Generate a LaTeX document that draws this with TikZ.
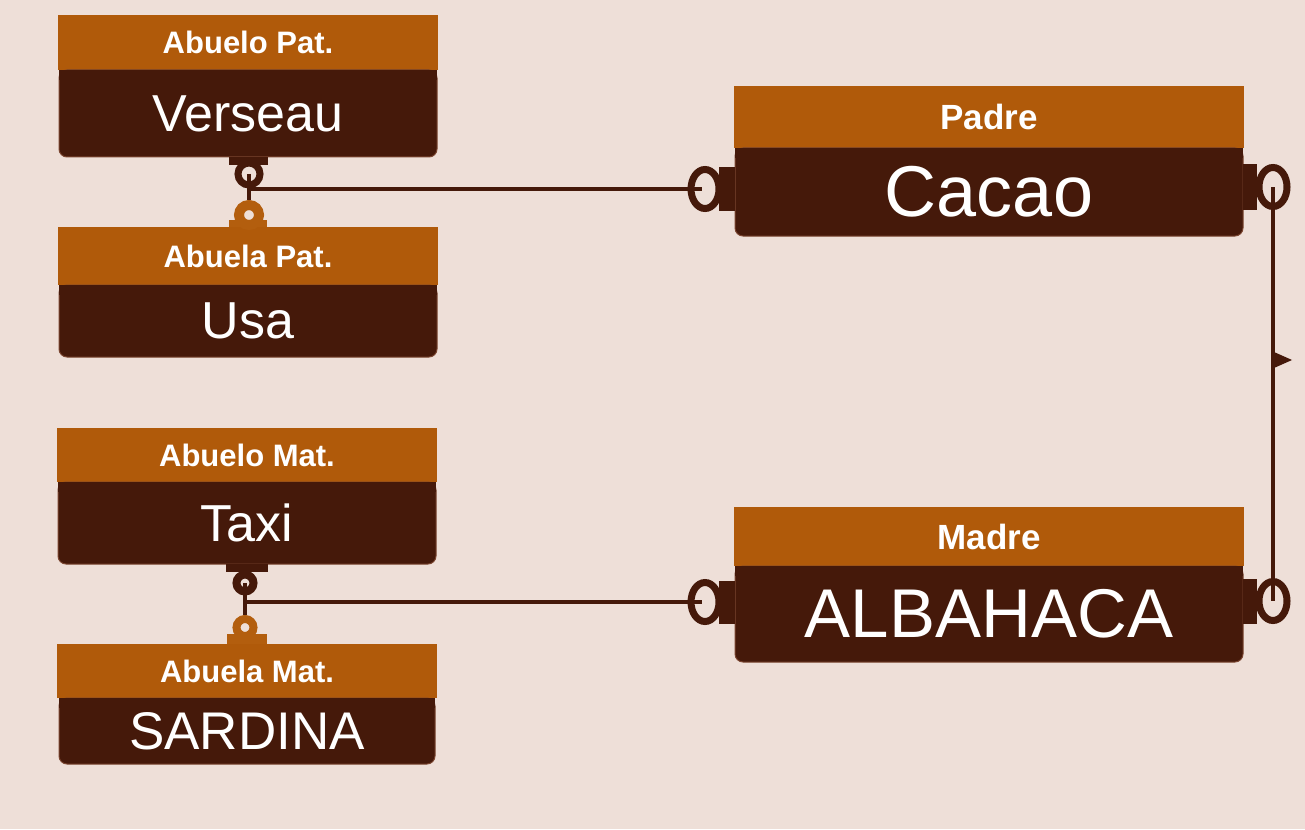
\documentclass[tikz,border=0pt]{standalone}
\usepackage{fontspec}
\setmainfont{Liberation Sans}
\usetikzlibrary{shapes,positioning}

\definecolor{canvas}{HTML}{EEDFD8}
\definecolor{headbrown}{HTML}{B05A0A}
\definecolor{bodybrown}{HTML}{45190A}
\definecolor{edgebrown}{HTML}{7A4530}
\definecolor{linkorange}{HTML}{B35E0E}

\begin{document}
\begin{tikzpicture}[x=1pt, y=-1pt]

  \tikzset{head/.style = {fill=headbrown, text=white, inner sep=0pt, outer sep=0pt,
      font=\fontsize{31}{36}\selectfont\bfseries},
    body/.style = {fill=bodybrown, draw=edgebrown, line width=1pt,
      rounded corners=8pt, text=white, inner sep=0pt, outer sep=0pt,
      font=\fontsize{52}{60}\selectfont},
    tab/.style = {fill=#1, inner sep=0pt, outer sep=0pt},
    ring/.style = {circle, draw=#1, line width=7pt, minimum size=22pt, inner sep=0pt},
    oval/.style = {ellipse, draw=bodybrown, line width=7pt,
      minimum width=28pt, minimum height=39pt, inner sep=0pt},
    link/.style = {draw=bodybrown, line width=4.5pt}}

  \fill[canvas] (0,0) rectangle (1305,829);
  \useasboundingbox (0,0) rectangle (1305,829);

  % grandparents
  \node[head, minimum width=380pt, minimum height=55pt] (verseauH) at (248,42.5) {Abuelo Pat.};
  \node[body, minimum width=378pt, minimum height=87pt, below=0pt of verseauH] (verseau) {Verseau};
  \node[head, minimum width=380pt, minimum height=58pt] (usaH) at (248,256) {Abuela Pat.};
  \node[body, minimum width=378pt, minimum height=72pt, below=0pt of usaH] (usa) {Usa};
  \node[head, minimum width=380pt, minimum height=54pt] (taxiH) at (247,455) {Abuelo Mat.};
  \node[body, minimum width=378pt, minimum height=82pt, below=0pt of taxiH] (taxi) {Taxi};
  \node[head, minimum width=380pt, minimum height=54pt] (sardinaH) at (247,671) {Abuela Mat.};
  \node[body, minimum width=376pt, minimum height=66pt, below=0pt of sardinaH,
    font=\fontsize{53}{60}\selectfont] (sardina) {SARDINA};

  % parents
  \node[head, minimum width=510pt, minimum height=62pt,
    font=\fontsize{35}{40}\selectfont\bfseries] (cacaoH) at (989,117) {Padre};
  \node[body, minimum width=508pt, minimum height=88pt, below=0pt of cacaoH,
    font=\fontsize{72}{80}\selectfont] (cacao) {Cacao};
  \node[head, minimum width=510pt, minimum height=59pt,
    font=\fontsize{35}{40}\selectfont\bfseries] (albahacaH) at (989,536.5) {Madre};
  \node[body, minimum width=508pt, minimum height=96pt, below=0pt of albahacaH,
    font=\fontsize{69}{80}\selectfont] (albahaca) {ALBAHACA};

  % square top corners
  \foreach \n in {verseau,usa,taxi,sardina,cacao,albahaca}
    \fill[bodybrown] (\n.north west) rectangle ([yshift=-10pt]\n.north east);

  % couple ends
  \node[tab=bodybrown, minimum width=39pt, minimum height=8pt, below=0pt of verseau] (verseauTab) {};
  \node[ring=bodybrown] (verseauRing) at (249,174) {};
  \node[ring=linkorange, minimum size=20pt, line width=10pt] (usaRing) at (249,215) {};
  \node[tab=linkorange, minimum width=38pt, minimum height=7pt, above=0pt of usaH] (usaTab) {};

  \node[tab=bodybrown, minimum width=42pt, minimum height=8pt, below=0pt of taxi] (taxiTab) {};
  \node[ring=bodybrown, minimum size=17pt, line width=8pt] (taxiRing) at (245,583) {};
  \node[ring=linkorange, minimum size=17pt, line width=8pt] (sardinaRing) at (245,627.5) {};
  \node[tab=linkorange, minimum width=40pt, minimum height=10pt, above=0pt of sardinaH] (sardinaTab) {};

  % child ends
  \node[oval] (cacaoL) at (705,189) {};
  \node[oval] (cacaoR) at (1273,187) {};
  \node[oval] (albahacaL) at (705,602) {};
  \node[oval] (albahacaR) at (1273,601) {};
  \node[tab=bodybrown, minimum width=16pt, minimum height=43pt, anchor=east] at (cacao.west |- cacaoL) {};
  \node[tab=bodybrown, minimum width=14pt, minimum height=45pt, anchor=west] at (cacao.east |- cacaoR) {};
  \node[tab=bodybrown, minimum width=16pt, minimum height=43pt, anchor=east] at (albahaca.west |- albahacaL) {};
  \node[tab=bodybrown, minimum width=14pt, minimum height=45pt, anchor=west] at (albahaca.east |- albahacaR) {};

  % links
  \draw[link] (verseauRing.center) -- (usaRing.north);
  \draw[link] (verseauRing |- cacaoL) -- ([xshift=-3pt]cacaoL.center);
  \draw[link] (taxiRing.center) -- (sardinaRing.north);
  \draw[link] (taxiRing |- albahacaL) -- ([xshift=-3pt]albahacaL.center);
  \draw[link] (cacaoR.center) -- (albahacaR.center);
  \fill[bodybrown] (1274,352) -- (1292,360) -- (1274,368) -- cycle;

\end{tikzpicture}
\end{document}
